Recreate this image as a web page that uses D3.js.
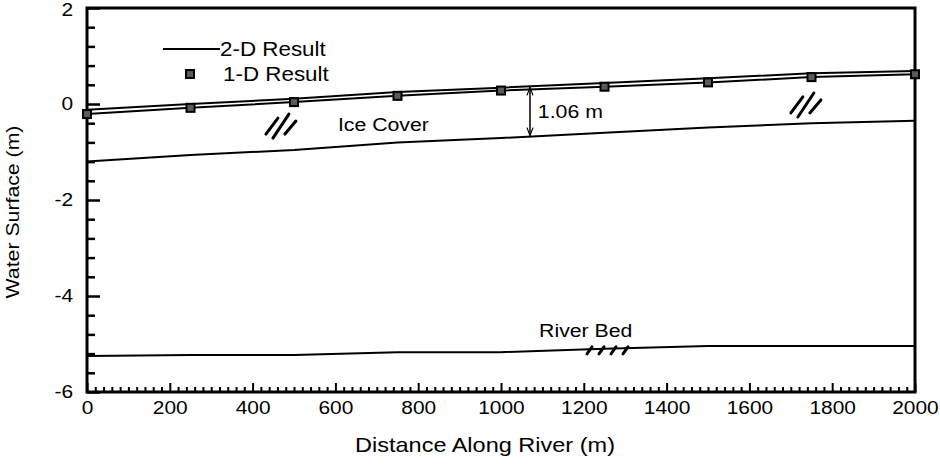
<!DOCTYPE html>
<html>
<head>
<meta charset="utf-8">
<script src="https://cdn.jsdelivr.net/npm/d3@7"></script>
<style>
  body { margin: 0; background: #fff; }
  svg text { font-family: "Liberation Sans", Arial, Helvetica, sans-serif; fill: #000; }
</style>
</head>
<body>
<svg id="chart" width="940" height="465"></svg>
<script>
// stations along the river (m)
const stations = [0, 250, 500, 750, 1000, 1250, 1500, 1750, 2000];
// water surface from the 2-D model (m)
const result2D = [-0.12, 0.0, 0.11, 0.25, 0.34, 0.44, 0.535, 0.64, 0.69];
// water surface from the 1-D model (m)
const result1D = [-0.21, -0.08, 0.04, 0.17, 0.28, 0.36, 0.45, 0.56, 0.62];
// bottom of ice cover (m)
const iceBottom = [-1.2, -1.06, -0.96, -0.8, -0.71, -0.6, -0.49, -0.4, -0.35];
// river bed (m)
const riverBed = [-5.25, -5.23, -5.23, -5.17, -5.17, -5.1, -5.04, -5.04, -5.04];

const xMajor = [0, 200, 400, 600, 800, 1000, 1200, 1400, 1600, 1800, 2000];
const yMajor = [2, 0, -2, -4, -6];
const legendLabels = ["2-D Result", "1-D Result"];

let svg = d3.select("#chart"),
	margin = {top: 8, right: 25, bottom: 73, left: 87},
	width = svg.attr("width") - margin.left - margin.right,
	height = svg.attr("height") - margin.top - margin.bottom,
	g = svg.append("g").attr("transform", "translate(" + margin.left + "," + margin.top + ")");

let tickFont = 19,
	noteFont = 19,
	wide = 1.12;

//the original lettering is wider than Arial, stretch it around its anchor
function stretch(sel, k) {
	sel.attr("transform", function() {
		let t = d3.select(this),
			px = +t.attr("x") || 0,
			py = +t.attr("y") || 0;
		return "translate(" + px + "," + py + ") scale(" + (k || wide) + ",1) translate(" + (-px) + "," + (-py) + ")";
	});
}

//define scales
let x = d3.scaleLinear().domain([0, 2000]).range([0, width]),
	y = d3.scaleLinear().domain([-6, 2]).range([height, 0]);

let xMinor = d3.range(0, 2001, 20).filter(function(d) { return d % 200 !== 0; }),
	yMinor = d3.range(-6, 2.01, 0.4).map(function(d) { return +d.toFixed(1); })
		.filter(function(d) { return Math.abs(d % 2) > 0.01; });

//x axis, ticks point inward
let xAxisMinor = g.append("g")
	.attr("transform", "translate(0," + height + ")")
	.call(d3.axisBottom(x).tickValues(xMinor).tickSize(-5).tickFormat(""));
let xAxis = g.append("g")
	.attr("transform", "translate(0," + height + ")")
	.call(d3.axisBottom(x).tickValues(xMajor).tickSize(-9).tickPadding(9).tickFormat(function(d) { return String(d); }));

//y axis, ticks point inward
let yAxisMinor = g.append("g")
	.call(d3.axisLeft(y).tickValues(yMinor).tickSize(-8).tickFormat(""));
let yAxis = g.append("g")
	.call(d3.axisLeft(y).tickValues(yMajor).tickSize(-13).tickPadding(14).tickFormat(function(d) { return String(d); }));

g.selectAll(".domain").remove();
xAxis.selectAll("text").style("font-size", tickFont + "px").attr("fill", "#000").call(stretch, 1.1);
yAxis.selectAll("text").style("font-size", tickFont + "px").attr("fill", "#000")
	//top label sits on the edge of the page, keep it inside
	.attr("dy", function(d) { return d === 2 ? "0.42em" : "0.3em"; })
	.call(stretch, 1.1);
xAxisMinor.selectAll("line").attr("stroke-width", 2);
xAxis.selectAll("line").attr("stroke-width", 2);
yAxisMinor.selectAll("line").attr("stroke-width", 2.5);
yAxis.selectAll("line").attr("stroke-width", 2.5);

//frame
g.append("rect")
	.attr("x", 0)
	.attr("y", 0)
	.attr("width", width)
	.attr("height", height)
	.attr("fill", "none")
	.attr("stroke", "#000")
	.attr("stroke-width", 3);

//lines
let line = d3.line()
	.x(function(d) { return x(d[0]); })
	.y(function(d) { return y(d[1]); });

function pairs(vals) { return stations.map(function(s, i) { return [s, vals[i]]; }); }

[result2D, result1D, iceBottom, riverBed].forEach(function(vals) {
	g.append("path")
		.datum(pairs(vals))
		.attr("fill", "none")
		.attr("stroke", "#000")
		.attr("stroke-width", 2)
		.attr("d", line);
});

//1-D markers
g.selectAll(".mark1d")
	.data(pairs(result1D))
	.enter()
	.append("rect")
	.attr("class", "mark1d")
	.attr("x", function(d) { return x(d[0]) - 4; })
	.attr("y", function(d) { return y(d[1]) - 4; })
	.attr("width", 8)
	.attr("height", 8)
	.attr("fill", "#5a5a5a")
	.attr("stroke", "#000")
	.attr("stroke-width", 2);

//1.06 m arrow, measured at 1070 m between 2-D surface and ice bottom
let arrowX = 1070,
	arrowTop = d3.scaleLinear().domain(stations).range(result2D)(arrowX),
	arrowBot = d3.scaleLinear().domain(stations).range(iceBottom)(arrowX);

g.append("line")
	.attr("x1", x(arrowX)).attr("x2", x(arrowX))
	.attr("y1", y(arrowTop) + 1).attr("y2", y(arrowBot) - 1)
	.attr("stroke", "#000")
	.attr("stroke-width", 1.5);
[[y(arrowTop) + 1, 1], [y(arrowBot) - 1, -1]].forEach(function(a) {
	g.append("path")
		.attr("d", "M" + (x(arrowX) - 3) + "," + (a[0] + a[1] * 8) + " L" + x(arrowX) + "," + a[0] + " L" + (x(arrowX) + 3) + "," + (a[0] + a[1] * 8))
		.attr("fill", "none")
		.attr("stroke", "#000")
		.attr("stroke-width", 1.2);
});

//text annotations
let notes = [
	{t: "1.06 m", x: 1089, y: -0.29},
	{t: "Ice Cover", x: 606, y: -0.56},
	{t: "River Bed", x: 1092, y: -4.86}
];
g.selectAll(".note")
	.data(notes)
	.enter()
	.append("text")
	.attr("class", "note")
	.attr("x", function(d) { return x(d.x); })
	.attr("y", function(d) { return y(d.y); })
	.style("font-size", noteFont + "px")
	.text(function(d) { return d.t; })
	.call(stretch);

//hatch symbols for ice and bed
let iceHatch = [[-14, 8, -2, -8], [-7, 12, 9, -12], [5, 8, 16, -5]],
	bedHatch = [[-20, 5, -15, -2], [-8, 5, -3, -2], [4, 5, 9, -2], [16, 5, 21, -2]];
let hatches = [
	{x: 466, y: -0.46, s: iceHatch},
	{x: 1734, y: -0.02, s: iceHatch},
	{x: 1256, y: -5.1, s: bedHatch}
];
hatches.forEach(function(h) {
	g.selectAll(null)
		.data(h.s)
		.enter()
		.append("line")
		.attr("x1", function(d) { return x(h.x) + d[0]; })
		.attr("y1", function(d) { return y(h.y) + d[1]; })
		.attr("x2", function(d) { return x(h.x) + d[2]; })
		.attr("y2", function(d) { return y(h.y) + d[3]; })
		.attr("stroke", "#000")
		.attr("stroke-width", 3)
		.attr("stroke-linecap", "round");
});

//legend
let legend = svg.append("g").attr("transform", "translate(163,49)");
legend.append("line")
	.attr("x1", 0).attr("x2", 57)
	.attr("y1", 0).attr("y2", 0)
	.attr("stroke", "#000")
	.attr("stroke-width", 2);
legend.append("rect")
	.attr("x", 23).attr("y", 21)
	.attr("width", 8).attr("height", 8)
	.attr("fill", "#5a5a5a")
	.attr("stroke", "#000")
	.attr("stroke-width", 2);
legend.selectAll(".leg")
	.data(legendLabels)
	.enter()
	.append("text")
	.attr("x", function(d, i) { return i === 0 ? 57 : 60; })
	.attr("y", function(d, i) { return i * 25; })
	.attr("dy", "0.35em")
	.style("font-size", "20px")
	.text(function(d) { return d; })
	.call(stretch);

//axis titles
svg.append("text")
	.attr("x", margin.left + width / 2 - 16)
	.attr("y", 452)
	.attr("text-anchor", "middle")
	.style("font-size", "21px")
	.text("Distance Along River (m)")
	.call(stretch);

svg.append("text")
	.attr("transform", "translate(19," + (margin.top + height / 2 + 12) + ") rotate(-90) scale(" + wide + ",1)")
	.attr("text-anchor", "middle")
	.style("font-size", "19px")
	.text("Water Surface (m)");
</script>
</body>
</html>
